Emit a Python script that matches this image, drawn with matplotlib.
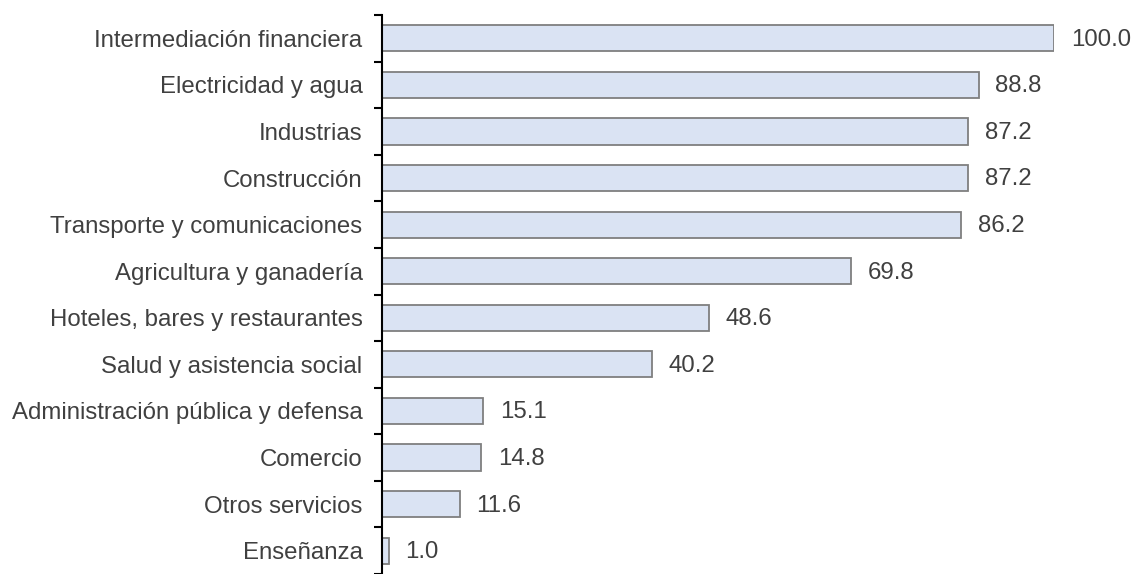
import matplotlib
matplotlib.use("Agg")
import matplotlib.pyplot as plt
import numpy as np

sectores = ["Intermediación financiera", "Electricidad y agua", "Industrias",
            "Construcción", "Transporte y comunicaciones", "Agricultura y ganadería",
            "Hoteles, bares y restaurantes", "Salud y asistencia social",
            "Administración pública y defensa", "Comercio", "Otros servicios",
            "Enseñanza"]
valores = [100.0, 88.8, 87.2, 87.2, 86.2, 69.8, 48.6, 40.2, 15.1, 14.8, 11.6, 1.0]

plt.rcParams['font.family'] = ['Liberation Sans', 'DejaVu Sans']

fig = plt.figure(figsize=(11.33, 5.74), dpi=100)
ax = fig.add_axes([382 / 1133, 0.0, 672 / 1133, 1 - 15 / 574])

y = np.arange(len(sectores))
ax.barh(y, valores, height=0.56, color="#dae3f3", edgecolor="#7f7f7f", linewidth=1.3)

for yi, v in zip(y, valores):
    ax.annotate(f"{v:.1f}", (v, yi), xytext=(12, -1), textcoords="offset points",
                va="center", ha="left", fontsize=17.3, color="#404040", annotation_clip=False)

ax.set_xlim(0, 100)
ax.set_ylim(len(sectores) - 0.5, -0.5)
ax.set_yticks(y)
ax.set_yticklabels(sectores, fontsize=17.3, color="#404040")
ax.set_yticks(np.arange(len(sectores) + 1) - 0.5, minor=True)
ax.tick_params(axis="y", which="major", length=0, pad=14)
ax.tick_params(axis="y", which="minor", length=6, width=1.5, direction="out", color="black")
ax.set_xticks([])
for s in ["top", "right", "bottom"]:
    ax.spines[s].set_visible(False)
ax.spines["left"].set_linewidth(1.5)
ax.spines["left"].set_color("black")

fig.savefig("out.png", dpi=100)
